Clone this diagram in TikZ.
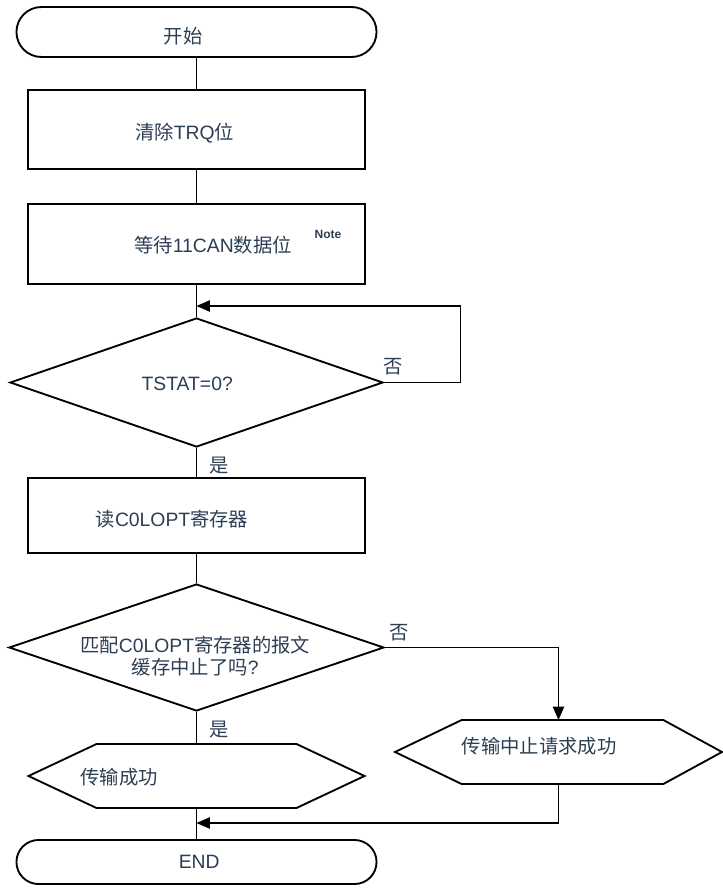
\documentclass[tikz,border=0pt]{standalone}
\usepackage{fontspec}
\setmainfont{Liberation Sans}
\newfontfamily\zhfont{Noto Sans CJK SC}
\newcommand{\zh}[1]{{\zhfont #1}}
\usetikzlibrary{shapes.geometric,shapes.misc,arrows.meta}
\definecolor{txtcol}{RGB}{44,62,84}

\begin{document}
\begin{tikzpicture}[
  x=0.75pt, y=-0.75pt,
  every node/.style={font=\fontsize{14.5}{16.5}\selectfont, text=txtcol},
  outline/.style={draw=black, line width=1.4pt},
  term/.style={outline, rounded rectangle, minimum width=276.75pt},
  procbox/.style={outline, rectangle, minimum width=252.5pt},
  decide/.style={outline, diamond, inner sep=0pt},
  hexbox/.style={rectangle, inner sep=0pt, outer sep=0pt, minimum height=48pt},
  tag/.style={inner sep=1pt},
  edge/.style={draw=black, line width=0.8pt},
  arrow/.style={edge, -{Triangle[length=10pt,width=8.5pt]}},
]
\useasboundingbox (0,0) rectangle (723,888);

% ---- Main column ----
\node (start) at (196.5,32)  [term, minimum height=37.5pt,
  label={[xshift=-10pt,yshift=-3.5pt]center:\zh{开始}}] {};
\node (clr)   at (196.5,129.5) [procbox, minimum height=59.25pt,
  label={[xshift=-9pt,yshift=-3pt]center:\zh{清除}TRQ\zh{位}}] {};
\node (wait)  at (196.5,244) [procbox, minimum height=60pt,
  label={[xshift=12.4pt,yshift=-0.75pt]center:\zh{等待}11CAN\zh{数据位}},
  label={[font=\bfseries\fontsize{9}{10}\selectfont,xshift=98.6pt,yshift=7.5pt]center:Note}] {};
\node (tst)   at (196.5,382.5) [decide, minimum width=279.75pt, minimum height=96.75pt,
  label={[xshift=-7pt,yshift=-1pt]center:TSTAT=0?}] {};
\node (rd)    at (196.5,515.5) [procbox, minimum height=56.25pt,
  label={[xshift=-18.4pt,yshift=-2.6pt]center:\zh{读}C0LOPT\zh{寄存器}}] {};
\node (chk)   at (196.5,647.5) [decide, minimum width=281.25pt, minimum height=95.25pt,
  label={[align=center,xshift=-1pt,yshift=-6.4pt]center:\zh{匹配}C0LOPT\zh{寄存器的报文}\\\zh{缓存中止了吗}?}] {};
\node (succ)  at (196.5,776) [hexbox, minimum width=252pt,
  label={[xshift=-58pt,yshift=-0.75pt]center:\zh{传输成功}}] {};
\node (end)   at (196.5,862) [term, minimum height=33pt,
  label={[xshift=2pt]center:END}] {};

% ---- Side branch ----
\node (abortok) at (558.5,752) [hexbox, minimum width=245.25pt,
  label={[xshift=-14.6pt,yshift=4.5pt]center:\zh{传输中止请求成功}}] {};

% hexagon outlines (left/right chamfer)
\foreach \n/\a/\b in {succ/51pt/51pt, abortok/50pt/44pt}
  \draw[outline] (\n.west) -- ([xshift=\a]\n.north west) -- ([xshift=-\b]\n.north east)
    -- (\n.east) -- ([xshift=-\b]\n.south east) -- ([xshift=\a]\n.south west) -- cycle;

% ---- Branch tags ----
\node (no1)  at (393,367) [tag] {\zh{否}};
\node (yes1) at (219,466) [tag] {\zh{是}};
\node (no2)  at (399,633) [tag] {\zh{否}};
\node (yes2) at (219,730) [tag] {\zh{是}};

% ---- Edges ----
\coordinate (loopin) at (196.5,306);
\coordinate (merge)  at (196.5,823);
\foreach \p/\c in {start/clr, clr/wait, wait/tst, tst/rd, rd/chk, chk/succ, succ/end}
  \draw[edge] (\p) -- (\c);
\draw[arrow] (tst.east) -- ++(77,0) |- (loopin);
\draw[arrow] (chk.east) -| (abortok.north);
\draw[arrow] (abortok.south) |- (merge);

\end{tikzpicture}
\end{document}
